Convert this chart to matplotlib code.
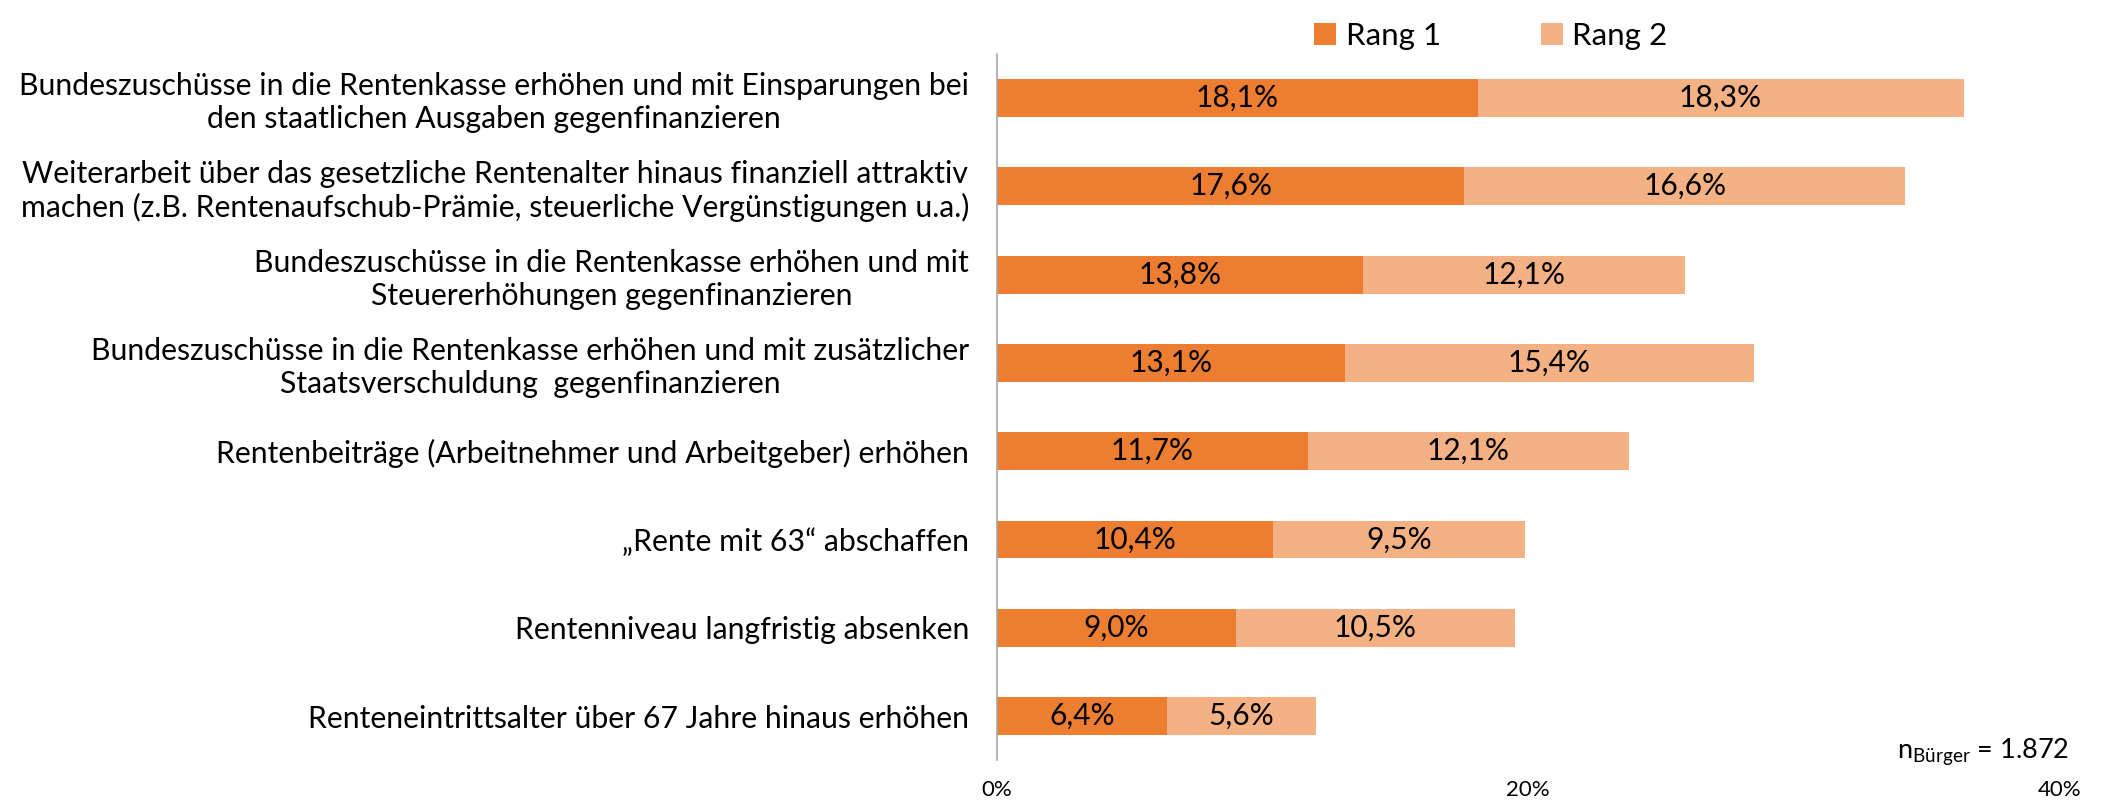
import matplotlib
matplotlib.use('Agg')
import matplotlib.pyplot as plt

plt.rcParams['font.family'] = ['Lato', 'DejaVu Sans']
plt.rcParams['mathtext.fontset'] = 'custom'
plt.rcParams['mathtext.rm'] = 'Lato'

# Daten
kategorien = [
    'Bundeszuschüsse in die Rentenkasse erhöhen und mit Einsparungen bei\nden staatlichen Ausgaben gegenfinanzieren',
    'Weiterarbeit über das gesetzliche Rentenalter hinaus finanziell attraktiv\nmachen (z.B. Rentenaufschub-Prämie, steuerliche Vergünstigungen u.a.)',
    'Bundeszuschüsse in die Rentenkasse erhöhen und mit\nSteuererhöhungen gegenfinanzieren',
    'Bundeszuschüsse in die Rentenkasse erhöhen und mit zusätzlicher\nStaatsverschuldung  gegenfinanzieren',
    'Rentenbeiträge (Arbeitnehmer und Arbeitgeber) erhöhen',
    '„Rente mit 63“ abschaffen',
    'Rentenniveau langfristig absenken',
    'Renteneintrittsalter über 67 Jahre hinaus erhöhen',
]
rang1 = [18.1, 17.6, 13.8, 13.1, 11.7, 10.4, 9.0, 6.4]
rang2 = [18.3, 16.6, 12.1, 15.4, 12.1, 9.5, 10.5, 5.6]
ticks = [0, 20, 40]

farbe1 = '#ED7D31'
farbe2 = '#F4B183'

fig = plt.figure(figsize=(21.12, 8.02), dpi=100)
ax = fig.add_axes([0.472, 0.052, 0.503, 0.881])

y = list(range(len(kategorien)))
b1 = ax.barh(y, rang1, height=0.43, color=farbe1, label='Rang 1')
b2 = ax.barh(y, rang2, left=rang1, height=0.43, color=farbe2, label='Rang 2')

# Werte in die Balken schreiben
for bars, werte in ((b1, rang1), (b2, rang2)):
    ax.bar_label(bars, labels=[f'{v:.1f}%'.replace('.', ',') for v in werte],
                 label_type='center', fontsize=21.5, color='black')

ax.set_xlim(0, 40)
ax.set_ylim(len(kategorien) - 0.5, -0.5)
ax.set_yticks(y)
ax.set_yticklabels(kategorien, fontsize=21.7, multialignment='center')
ax.set_xticks(ticks)
ax.set_xticklabels([f'{t}%' for t in ticks], fontsize=16)
ax.tick_params(axis='both', length=0)
ax.tick_params(axis='y', pad=20)
ax.tick_params(axis='x', pad=14)

for s in ['top', 'right', 'bottom']:
    ax.spines[s].set_visible(False)
ax.spines['left'].set_color('#A6A6A6')
ax.spines['left'].set_linewidth(1.2)

ax.legend(loc='upper center', bbox_to_anchor=(0.465, 1.085), ncol=2, frameon=False,
          fontsize=22.5, handlelength=0.7, handleheight=0.7, handletextpad=0.3,
          columnspacing=3.2)

ax.text(1.009, -0.01, r'n$_{\mathrm{Bürger}}$ = 1.872', transform=ax.transAxes,
        ha='right', va='bottom', fontsize=19.5)

fig.savefig('out.png', dpi=100)
